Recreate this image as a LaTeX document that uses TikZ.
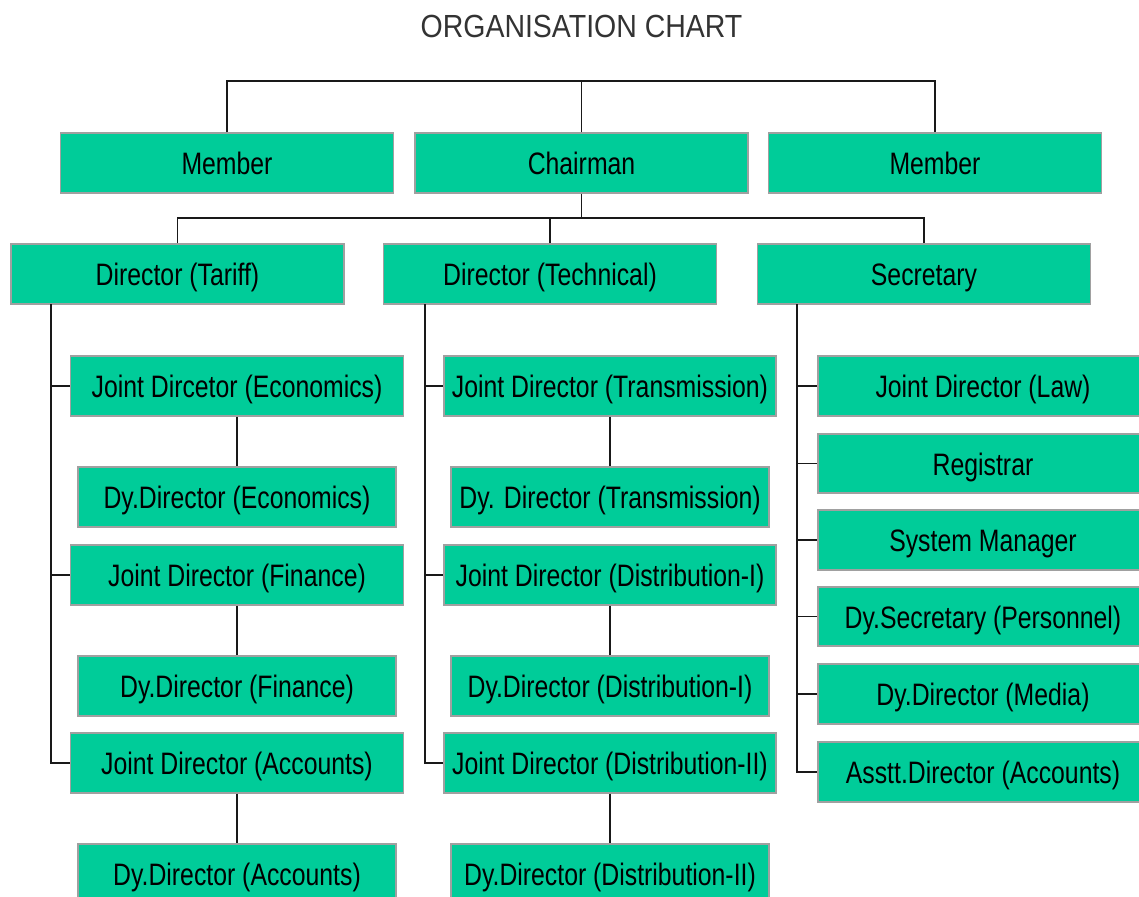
\documentclass[tikz,border=0pt]{standalone}
\usepackage{fontspec}
\setmainfont{Liberation Sans}
\newfontfamily\boxfont{Liberation Sans}[FakeStretch=0.8]
\newfontfamily\titlefont{Liberation Sans}[FakeStretch=0.89]
\definecolor{boxgreen}{HTML}{00CC99}
\definecolor{boxedge}{HTML}{A0A0A0}
\tikzset{
  orgbox/.style={draw=boxedge, fill=boxgreen, line width=1.1pt, inner sep=0pt,
    minimum height=60pt, text height=23pt, text depth=0pt,
    font=\boxfont\fontsize{31}{37}\selectfont, text=black},
  wbox/.style={orgbox, minimum width=333pt},
  nbox/.style={orgbox, minimum width=318pt},
  conn/.style={draw=black!90, line width=1.9pt}
}
\begin{document}
\begin{tikzpicture}[x=1pt,y=-1pt]
\clip (0,0) rectangle (1139,896);
\fill[white] (0,0) rectangle (1139,896);
\node[anchor=base, font=\titlefont\fontsize{32}{38}\selectfont, text=black!80] (title) at (581.5,38) {ORGANISATION CHART};
% row 1
\node[wbox] (m1) at (227,163) {Member};
\node[wbox] (ch) at (581.5,163) {Chairman};
\node[wbox] (m2) at (935,163) {Member};
% row 2
\node[wbox] (dt) at (177.5,274) {Director (Tariff)};
\node[wbox] (dtech) at (550,274) {Director (Technical)};
\node[wbox] (sec) at (924,274) {Secretary};
% left column
\node[wbox] (je) at (237,386) {Joint Dircetor (Economics)};
\node[nbox] (de) at (237,497) {Dy.Director (Economics)};
\node[wbox] (jf) at (237,575) {Joint Director (Finance)};
\node[nbox] (df) at (237,686) {Dy.Director (Finance)};
\node[wbox] (ja) at (237,763) {Joint Director (Accounts)};
\node[nbox] (da) at (237,874) {Dy.Director (Accounts)};
% middle column
\node[wbox, minimum width=332pt] (jt) at (610,386) {Joint Director (Transmission)};
\node[nbox] (dtr) at (610,497) {Dy. Director (Transmission)};
\node[wbox, minimum width=332pt] (jd1) at (610,575) {Joint Director (Distribution-I)};
\node[nbox] (dd1) at (610,686) {Dy.Director (Distribution-I)};
\node[wbox, minimum width=332pt] (jd2) at (610,763) {Joint Director (Distribution-II)};
\node[nbox] (dd2) at (610,874) {Dy.Director (Distribution-II)};
% right column
\node[orgbox, minimum width=330pt, minimum height=60pt] (law) at (983,386) {Joint Director (Law)};
\node[orgbox, minimum width=330pt, minimum height=59pt] (reg) at (983,463.5) {Registrar};
\node[orgbox, minimum width=330pt, minimum height=60pt] (sm) at (983,540) {System Manager};
\node[orgbox, minimum width=330pt, minimum height=59pt] (dsec) at (983,616.5) {Dy.Secretary (Personnel)};
\node[orgbox, minimum width=330pt, minimum height=60pt] (med) at (983,694) {Dy.Director (Media)};
\node[orgbox, minimum width=330pt, minimum height=60pt] (asst) at (983,772) {Asstt.Director (Accounts)};
% connectors top
\coordinate (bar1) at (581.5,81);
\draw[conn] (m1.north) |- (bar1) -| (m2.north);
\draw[conn] (ch.north) -- (bar1);
\coordinate (bar2) at (581.5,218);
\draw[conn] (ch.south) -- (bar2);
\draw[conn] (dt.north) |- (bar2) -| (sec.north);
\draw[conn] (dtech.north) -- (dtech.north |- bar2);
% left column
\coordinate (lc) at (51,304);
\draw[conn] (lc) |- (ja.west);
\draw[conn] (lc |- je.west) -- (je.west);
\draw[conn] (lc |- jf.west) -- (jf.west);
\draw[conn] (je.south) -- (de.north);
\draw[conn] (jf.south) -- (df.north);
\draw[conn] (ja.south) -- (da.north);
% middle column
\coordinate (mc) at (425,304);
\draw[conn] (mc) |- (jd2.west);
\draw[conn] (mc |- jt.west) -- (jt.west);
\draw[conn] (mc |- jd1.west) -- (jd1.west);
\draw[conn] (jt.south) -- (dtr.north);
\draw[conn] (jd1.south) -- (dd1.north);
\draw[conn] (jd2.south) -- (dd2.north);
% right column
\coordinate (rc) at (797,304);
\draw[conn] (rc) |- (asst.west);
\draw[conn] (rc |- law.west) -- (law.west);
\draw[conn] (rc |- reg.west) -- (reg.west);
\draw[conn] (rc |- sm.west) -- (sm.west);
\draw[conn] (rc |- dsec.west) -- (dsec.west);
\draw[conn] (rc |- med.west) -- (med.west);
\end{tikzpicture}
\end{document}
